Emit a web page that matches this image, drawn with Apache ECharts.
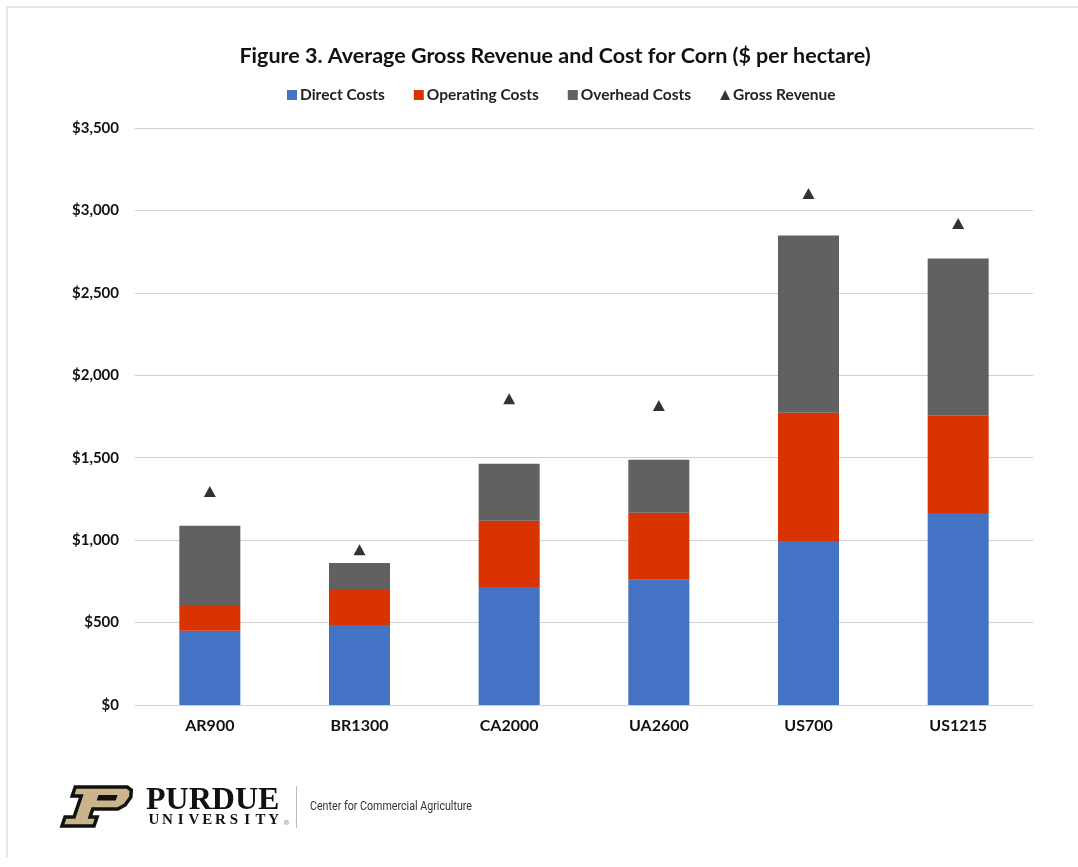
<!DOCTYPE html>
<html>
<head>
<meta charset="utf-8">
<script src="https://cdn.jsdelivr.net/npm/echarts@6/dist/echarts.min.js"></script>
<style>
html,body{margin:0;padding:0;background:#fff;}
#chart{width:1078px;height:867px;}
</style>
</head>
<body>
<div id="chart"></div>
<script>
const categories = ['AR900', 'BR1300', 'CA2000', 'UA2600', 'US700', 'US1215'];
const directCosts = [450, 485, 716, 759, 995, 1165];
const operatingCosts = [157, 219, 401, 407, 778, 590];
const overheadCosts = [480, 158, 347, 322, 1075, 953];
const grossRevenue = [1295, 942, 1858, 1816, 3103, 2921];
const yTicks = [0, 500, 1000, 1500, 2000, 2500, 3000, 3500];

const chart = echarts.init(document.getElementById('chart'));
const FONT = 'Lato';

function pLogo() {
  const ox = 62, oy = 787, H = 39, k = 0.34;
  const t = pts => pts.map(([x, y]) => [ox + x + (H - y) * k, oy + y]);
  const outer = [[0,0],[52,0],[57,3],[59,10],[56,18],[50,22],[25,22],[25,30],[32,30],[32,39],[0,39],[0,30],[9,30],[9,9],[0,9]];
  const slot = [[26,8],[45,8],[45,13.5],[26,13.5]];
  return [
    { type: 'polygon', shape: { points: t(outer) }, style: { fill: '#C9B48C', stroke: '#111', lineWidth: 3.5, lineJoin: 'miter' } },
    { type: 'polygon', shape: { points: t(slot) }, style: { fill: '#111' } }
  ];
}

const univ = 'UNIVERSITY'.split('').map((ch, i) => ({
  type: 'text', x: 154 + i * 13.3, y: 813,
  style: { text: ch, font: '600 15px "Liberation Serif"', fill: '#111', textAlign: 'center', textVerticalAlign: 'top' }
}));

chart.setOption({
  backgroundColor: '#fff',
  animation: false,
  title: {
    text: 'Figure 3. Average Gross Revenue and Cost for Corn ($ per hectare)',
    left: 550, top: 40, textAlign: 'center',
    textStyle: { fontFamily: FONT, fontWeight: 'bold', fontSize: 21.5, color: '#111' }
  },
  legend: {
    top: 82, left: 282,
    itemWidth: 10, itemHeight: 10, itemGap: 29,
    textStyle: { fontFamily: FONT, fontWeight: 'bold', fontSize: 15.5, color: '#222', padding: [0, 0, 0, -2] },
    data: [
      { name: 'Direct Costs', icon: 'rect' },
      { name: 'Operating Costs', icon: 'rect' },
      { name: 'Overhead Costs', icon: 'rect' },
      { name: 'Gross Revenue', icon: 'triangle' }
    ]
  },
  grid: { left: 135, right: 45, top: 128, bottom: 162 },
  xAxis: {
    type: 'category', data: categories,
    axisLine: { lineStyle: { color: '#d0d0d0', width: 1 } },
    axisTick: { show: false },
    axisLabel: { fontFamily: FONT, fontWeight: 'bold', fontSize: 16, color: '#111', margin: 13 }
  },
  yAxis: {
    type: 'value', min: 0, max: 3500, interval: 500,
    axisLine: { show: false }, axisTick: { show: false },
    splitLine: { lineStyle: { color: '#d0d0d0', width: 1 } },
    axisLabel: {
      fontFamily: FONT, fontWeight: 'bold', fontSize: 15, color: '#111', margin: 16,
      formatter: v => yTicks.includes(v) ? '$' + v.toLocaleString('en-US') : ''
    }
  },
  series: [
    { name: 'Direct Costs', type: 'bar', stack: 'c', data: directCosts, barWidth: 61, itemStyle: { color: '#4472C4' } },
    { name: 'Operating Costs', type: 'bar', stack: 'c', data: operatingCosts, barWidth: 61, itemStyle: { color: '#D83300' } },
    { name: 'Overhead Costs', type: 'bar', stack: 'c', data: overheadCosts, barWidth: 61, itemStyle: { color: '#616161' } },
    { name: 'Gross Revenue', type: 'scatter', data: grossRevenue, symbol: 'triangle', symbolSize: [12, 11], itemStyle: { color: '#000' }, z: 5 }
  ],
  graphic: [
    { type: 'line', shape: { x1: 6, y1: 7, x2: 1078, y2: 7 }, style: { stroke: '#e6e6e6', lineWidth: 2 } },
    { type: 'line', shape: { x1: 7, y1: 6, x2: 7, y2: 857 }, style: { stroke: '#e6e6e6', lineWidth: 2 } },
    ...pLogo(),
    { type: 'text', x: 146, y: 785, style: { text: 'PURDUE', font: 'bold 32px "Liberation Serif"', fill: '#111', textVerticalAlign: 'top' } },
    ...univ,
    { type: 'text', x: 283, y: 820, style: { text: '®', font: '7px "DejaVu Sans"', fill: '#888', textVerticalAlign: 'top' } },
    { type: 'line', shape: { x1: 296.5, y1: 786, x2: 296.5, y2: 828 }, style: { stroke: '#bdbdbd', lineWidth: 1 } },
    { type: 'text', x: 310, y: 807, scaleX: 0.89, style: { text: 'Center for Commercial Agriculture', font: '12px Roboto', fill: '#333', textVerticalAlign: 'middle' } }
  ]
});
</script>
</body>
</html>
